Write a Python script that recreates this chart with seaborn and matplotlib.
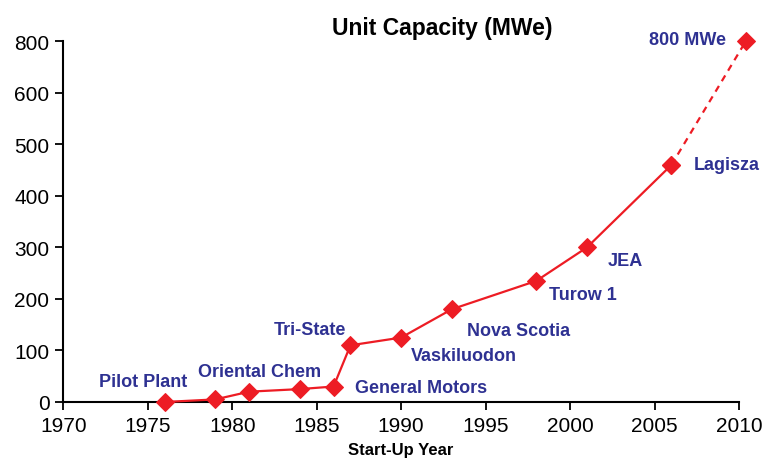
import numpy as np
import pandas as pd
import matplotlib
matplotlib.use("Agg")
import matplotlib.pyplot as plt
import seaborn as sns

# Data
years = [1976, 1979, 1981, 1984, 1986, 1987, 1990, 1993, 1998, 2001, 2006]
capacity = [0, 5, 20, 25, 30, 110, 125, 180, 235, 300, 460]
plant_names = ["Pilot Plant", "", "Oriental Chem", "", "General Motors", "Tri-State",
               "Vaskiluodon", "Nova Scotia", "Turow 1", "JEA", "Lagisza"]
future_years = [2006, 2010.4]
future_capacity = [460, 800]
future_name = "800 MWe"

y_ticks = [0, 100, 200, 300, 400, 500, 600, 800]
x_ticks = [1970, 1975, 1980, 1985, 1990, 1995, 2000, 2005, 2010]

red = "#ED1C24"
navy = "#2E3192"

sns.set_theme(style="ticks")
plt.rcParams["font.family"] = ["Liberation Sans", "DejaVu Sans"]
plt.rcParams["text.color"] = "black"

db = pd.DataFrame({"year": years, "mwe": capacity, "name": plant_names})
future = pd.DataFrame({"year": future_years, "mwe": future_capacity})

fig, ax = plt.subplots(figsize=(7.65, 4.64), dpi=100)
fig.subplots_adjust(left=0.0827, right=0.966, bottom=0.1315, top=0.9088)

# axis above 600 is squeezed to half scale (800 sits where 700 would be)
def fwd(v):
    v = np.asarray(v, dtype=float)
    return np.where(v <= 600, v, 600 + (v - 600) / 2)

def inv(v):
    v = np.asarray(v, dtype=float)
    return np.where(v <= 600, v, 600 + (v - 600) * 2)

ax.set_yscale("function", functions=(fwd, inv))

sns.lineplot(data=future, x="year", y="mwe", ax=ax, color=red, linewidth=1.6,
             linestyle=(0, (3, 2.5)), marker="D", markersize=9.5,
             markeredgecolor=red, clip_on=False, zorder=3)
sns.lineplot(data=db, x="year", y="mwe", ax=ax, color=red, linewidth=1.6,
             marker="D", markersize=9.5, markeredgecolor=red, clip_on=False, zorder=4)

# label offsets in pixels (dx, dy, ha)
offsets = {
    "Pilot Plant": (-21, 20, "center"),
    "Oriental Chem": (10, 20, "center"),
    "General Motors": (21, -1, "left"),
    "Tri-State": (-4, 16, "right"),
    "Vaskiluodon": (10, -18, "left"),
    "Nova Scotia": (15, -21, "left"),
    "Turow 1": (13, -14, "left"),
    "JEA": (21, -13, "left"),
    "Lagisza": (22, 0, "left"),
}
for _, row in db.iterrows():
    if row["name"] == "":
        continue
    dx, dy, ha = offsets[row["name"]]
    ax.annotate(row["name"], (row["year"], row["mwe"]), xytext=(dx * 0.72, dy * 0.72),
                textcoords="offset points", ha=ha, va="center", fontsize=13,
                fontweight="bold", color=navy, annotation_clip=False)
ax.annotate(future_name, (future_years[-1], future_capacity[-1]), xytext=(-20 * 0.72, 1.5 * 0.72),
            textcoords="offset points", ha="right", va="center", fontsize=13,
            fontweight="bold", color=navy, annotation_clip=False)

ax.set_xlim(1970, 2010)
ax.set_ylim(0, 800)
ax.set_xticks(x_ticks)
ax.set_yticks(y_ticks)
ax.set_yticklabels([str(t) for t in y_ticks])
ax.tick_params(axis="both", labelsize=15, colors="black", direction="out",
               length=6, width=1.3, pad=4)
for s in ["left", "bottom"]:
    ax.spines[s].set_linewidth(1.5)
    ax.spines[s].set_color("black")
sns.despine(ax=ax)

ax.set_xlabel("Start-Up Year", fontsize=12, fontweight="bold", labelpad=5, color="black")
ax.set_ylabel("")
fig.text(442 / 765, 1 - 28 / 464, "Unit Capacity (MWe)", ha="center", va="center",
         fontsize=16.5, fontweight="bold", color="black")

plt.savefig("out.png", dpi=100)
